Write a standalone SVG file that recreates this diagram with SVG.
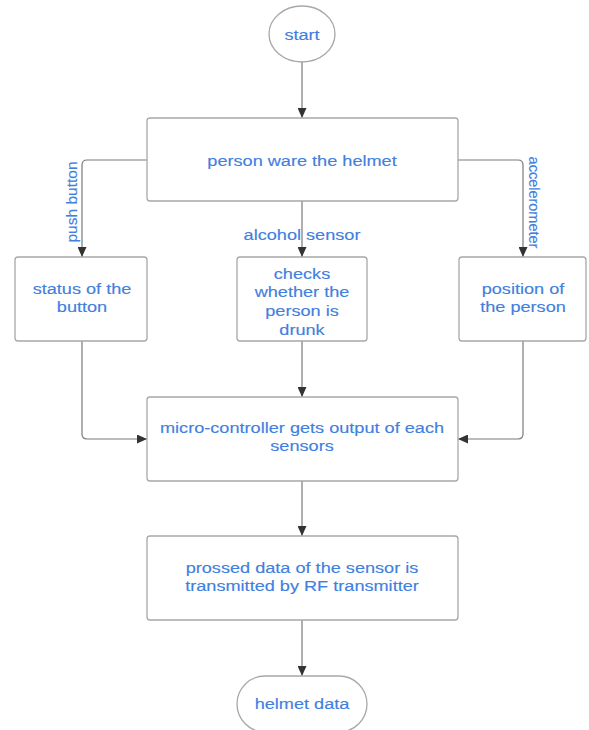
<svg xmlns="http://www.w3.org/2000/svg" width="589" height="730" viewBox="0 0 589 730">
<style>
.box{fill:#fff;stroke:#a8a8a8;stroke-width:1.3}
.t{font-family:"Liberation Sans",Arial,sans-serif;font-size:15.5px;fill:#3f80e0;text-anchor:middle;stroke:#3f80e0;stroke-width:0.15}
.c{fill:none;stroke:#7a7a7a;stroke-width:1.2}
</style>
<defs>
<marker id="ah" markerUnits="userSpaceOnUse" markerWidth="10" markerHeight="9" refX="10" refY="4.5" orient="auto">
<path d="M0,0 L10,4.5 L0,9 z" fill="#333"/>
</marker>
</defs>
<rect width="589" height="730" fill="#fff"/>
<g id="connectors">
<path class="c" d="M302 62 V118" marker-end="url(#ah)"/>
<path class="c" d="M147 160 H87 Q82 160 82 165 V257" marker-end="url(#ah)"/>
<path class="c" d="M302 201 V257" marker-end="url(#ah)"/>
<path class="c" d="M458 160 H518 Q523 160 523 165 V257" marker-end="url(#ah)"/>
<path class="c" d="M82 341 V434 Q82 439 87 439 H147" marker-end="url(#ah)"/>
<path class="c" d="M302 341 V397" marker-end="url(#ah)"/>
<path class="c" d="M523 341 V434 Q523 439 518 439 H458" marker-end="url(#ah)"/>
<path class="c" d="M302 481 V536" marker-end="url(#ah)"/>
<path class="c" d="M302 620 V676" marker-end="url(#ah)"/>
<text class="t" transform="translate(76.5,202) rotate(-90)">push button</text>
<text class="t" transform="translate(302,240) scale(1.17,1)">alcohol sensor</text>
<text class="t" style="font-size:14.5px" transform="translate(529,202.5) rotate(90)">accelerometer</text>
</g>
<g id="start">
<ellipse class="box" cx="302" cy="34" rx="33" ry="28"/>
<text class="t" transform="translate(302,39.5) scale(1.17,1)">start</text>
</g>
<g id="wear">
<rect class="box" x="147" y="118" width="311" height="83" rx="3"/>
<text class="t" transform="translate(302,165.5) scale(1.17,1)">person ware the helmet</text>
</g>
<g id="button">
<rect class="box" x="15" y="257" width="132" height="84" rx="3"/>
<text class="t" transform="translate(82,293.5) scale(1.17,1)"><tspan x="0" y="0">status of the</tspan><tspan x="0" y="19">button</tspan></text>
</g>
<g id="drunk">
<rect class="box" x="237" y="257" width="130" height="84" rx="3"/>
<text class="t" transform="translate(302,278.5) scale(1.17,1)"><tspan x="0" y="0">checks</tspan><tspan x="0" y="19">whether the</tspan><tspan x="0" y="38">person is</tspan><tspan x="0" y="56.5">drunk</tspan></text>
</g>
<g id="position">
<rect class="box" x="459" y="257" width="127" height="84" rx="3"/>
<text class="t" transform="translate(523,293.5) scale(1.17,1)"><tspan x="0" y="0">position of</tspan><tspan x="0" y="19">the person</tspan></text>
</g>
<g id="micro">
<rect class="box" x="147" y="397" width="311" height="84" rx="3"/>
<text class="t" transform="translate(302,432.5) scale(1.17,1)"><tspan x="0" y="0">micro-controller gets output of each</tspan><tspan x="0" y="19">sensors</tspan></text>
</g>
<g id="transmit">
<rect class="box" x="147" y="536" width="311" height="84" rx="3"/>
<text class="t" transform="translate(302,572.5) scale(1.17,1)"><tspan x="0" y="0">prossed data of the sensor is</tspan><tspan x="0" y="19">transmitted by RF transmitter</tspan></text>
</g>
<g id="helmet">
<rect class="box" x="237" y="676" width="130" height="56" rx="28"/>
<text class="t" transform="translate(302,708.5) scale(1.17,1)">helmet data</text>
</g>
</svg>
